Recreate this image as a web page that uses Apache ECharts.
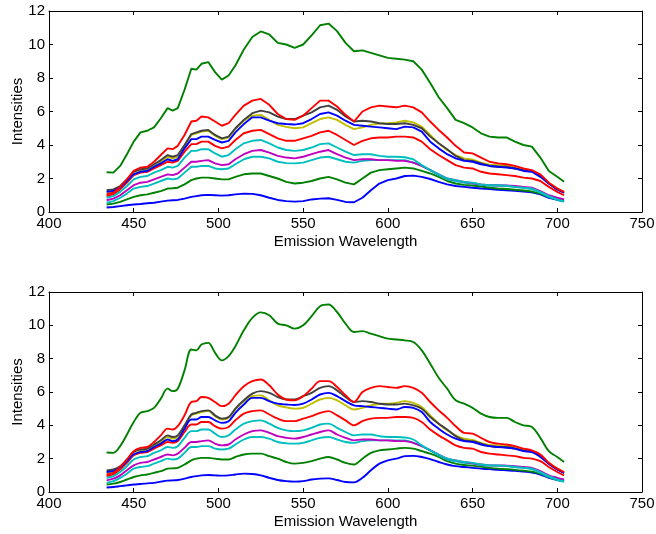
<!DOCTYPE html>
<html><head><meta charset="utf-8">
<script src="https://cdn.jsdelivr.net/npm/echarts@6/dist/echarts.min.js"></script>
<style>html,body{margin:0;padding:0;background:#fff}#c{width:656px;height:534px}</style>
</head><body><div id="c"></div>
<script>
const wavelengths = [434,438,442,446,450,454,458,462,466,470,473,476,480,484,487,490,494,498,502,506,510,515,520,525,530,535,540,545,550,555,560,565,570,575,580,585,590,595,600,605,610,615,620,625,630,635,640,645,650,655,660,665,670,675,680,685,690,695,700,704];
const xTicks = [400,450,500,550,600,650,700,750];
const yTicks = [0,2,4,6,8,10,12];

const s1_blue = [0.27,0.3,0.35,0.4,0.45,0.48,0.52,0.55,0.62,0.68,0.7,0.72,0.8,0.9,0.95,1.0,1.02,1.0,0.98,1.0,1.05,1.1,1.08,1.0,0.85,0.72,0.65,0.62,0.65,0.75,0.8,0.82,0.72,0.6,0.58,0.85,1.3,1.7,1.9,2.0,2.15,2.17,2.1,1.97,1.8,1.65,1.55,1.5,1.45,1.4,1.37,1.33,1.3,1.27,1.22,1.17,1.05,0.85,0.72,0.65];
const s2_green = [0.45,0.5,0.6,0.75,0.9,1.0,1.05,1.15,1.25,1.4,1.42,1.45,1.65,1.9,2.0,2.05,2.05,2.0,1.95,1.95,2.1,2.25,2.3,2.3,2.15,2.0,1.8,1.7,1.75,1.85,2.0,2.1,1.95,1.75,1.65,2.0,2.35,2.5,2.55,2.6,2.65,2.6,2.45,2.3,2.1,1.85,1.7,1.62,1.58,1.52,1.45,1.4,1.37,1.33,1.28,1.22,1.1,0.9,0.75,0.68];
const s3_red = [0.95,1.05,1.35,1.75,2.2,2.35,2.4,2.6,2.8,3.0,2.95,3.05,3.6,4.05,4.05,4.2,4.2,3.95,3.8,3.9,4.3,4.7,4.85,4.9,4.65,4.4,4.25,4.25,4.4,4.55,4.75,4.85,4.6,4.3,4.0,4.25,4.4,4.45,4.45,4.5,4.5,4.45,4.2,3.75,3.4,3.1,2.8,2.65,2.6,2.4,2.3,2.25,2.2,2.15,2.05,2.0,1.85,1.5,1.2,1.0];
const s4_cyan = [0.55,0.65,0.85,1.1,1.4,1.5,1.55,1.7,1.85,2.0,1.95,2.0,2.35,2.7,2.7,2.75,2.75,2.6,2.55,2.6,2.85,3.15,3.3,3.3,3.2,3.0,2.92,2.9,2.95,3.1,3.25,3.3,3.15,3.0,2.95,3.05,3.1,3.1,3.1,3.1,3.1,2.95,2.75,2.5,2.2,1.95,1.85,1.75,1.7,1.62,1.58,1.57,1.55,1.5,1.45,1.37,1.15,0.9,0.72,0.62];
const s5_magenta = [0.7,0.8,1.0,1.3,1.6,1.75,1.8,1.95,2.1,2.25,2.2,2.3,2.65,3.0,3.0,3.05,3.1,2.9,2.8,2.85,3.15,3.45,3.65,3.7,3.55,3.35,3.25,3.2,3.3,3.45,3.6,3.7,3.45,3.25,3.1,3.15,3.15,3.1,3.1,3.05,3.05,2.95,2.75,2.5,2.25,2.0,1.9,1.8,1.72,1.65,1.6,1.6,1.58,1.55,1.5,1.45,1.25,1.0,0.85,0.75];
const s6_olive = [1.1,1.2,1.45,1.85,2.25,2.45,2.5,2.75,3.0,3.3,3.2,3.3,3.95,4.6,4.7,4.8,4.85,4.55,4.35,4.45,4.95,5.45,5.75,5.8,5.5,5.2,5.08,5.0,5.05,5.3,5.55,5.65,5.5,5.2,4.95,5.05,5.2,5.28,5.3,5.35,5.45,5.35,5.1,4.6,4.1,3.7,3.4,3.2,3.12,2.95,2.82,2.8,2.75,2.68,2.55,2.47,2.2,1.75,1.4,1.2];
const s7_gray = [1.3,1.35,1.55,1.95,2.4,2.55,2.6,2.85,3.1,3.4,3.3,3.4,4.0,4.65,4.75,4.85,4.9,4.6,4.4,4.5,5.0,5.5,5.9,6.05,5.95,5.7,5.55,5.55,5.75,5.95,6.25,6.35,6.1,5.7,5.4,5.45,5.4,5.3,5.25,5.25,5.3,5.2,5.0,4.5,4.1,3.75,3.35,3.1,3.05,2.9,2.75,2.7,2.7,2.6,2.5,2.45,2.2,1.7,1.35,1.15];
const s8_blue = [1.2,1.25,1.45,1.85,2.25,2.4,2.45,2.7,2.9,3.15,3.05,3.15,3.8,4.35,4.35,4.5,4.5,4.3,4.15,4.25,4.75,5.25,5.65,5.65,5.45,5.3,5.25,5.22,5.3,5.55,5.85,5.95,5.75,5.45,5.2,5.15,5.1,5.05,5.0,4.95,5.1,5.05,4.8,4.2,3.8,3.45,3.2,3.05,3.0,2.85,2.75,2.7,2.65,2.6,2.45,2.4,2.1,1.7,1.35,1.15];
const s9_green = [2.37,2.35,2.75,3.45,4.2,4.75,4.85,5.05,5.6,6.2,6.05,6.2,7.3,8.55,8.5,8.85,8.95,8.35,7.9,8.15,8.75,9.7,10.45,10.78,10.6,10.1,10.0,9.8,10.0,10.55,11.15,11.25,10.8,10.1,9.6,9.65,9.5,9.35,9.2,9.15,9.1,9.0,8.5,7.7,6.85,6.2,5.5,5.3,5.05,4.7,4.5,4.45,4.45,4.2,4.0,3.9,3.25,2.45,2.1,1.8];
const s10_red = [1.05,1.15,1.5,1.95,2.45,2.65,2.7,3.0,3.4,3.8,3.75,3.95,4.6,5.4,5.45,5.7,5.65,5.4,5.15,5.3,5.8,6.35,6.65,6.75,6.4,5.85,5.55,5.5,5.75,6.2,6.65,6.65,6.3,5.8,5.4,6.0,6.25,6.35,6.3,6.25,6.35,6.25,5.95,5.4,4.9,4.45,3.95,3.55,3.5,3.25,3.0,2.9,2.85,2.75,2.6,2.5,2.25,1.75,1.4,1.2];
const s11_cyan = [0.85,0.95,1.2,1.55,1.95,2.1,2.15,2.35,2.5,2.7,2.65,2.75,3.25,3.65,3.65,3.75,3.75,3.5,3.3,3.4,3.75,4.1,4.25,4.3,4.1,3.85,3.7,3.65,3.7,3.85,4.05,4.1,3.85,3.6,3.4,3.45,3.45,3.35,3.3,3.3,3.27,3.15,2.8,2.5,2.25,2.0,1.9,1.8,1.75,1.65,1.6,1.6,1.57,1.5,1.45,1.4,1.2,0.95,0.75,0.62];

const seriesList = [
  [s1_blue,'#0000ff'],[s2_green,'#008000'],[s3_red,'#ff0000'],[s4_cyan,'#00bfbf'],
  [s5_magenta,'#bf00bf'],[s6_olive,'#bfbf00'],[s7_gray,'#404040'],[s8_blue,'#0000ff'],
  [s9_green,'#008000'],[s10_red,'#ff0000'],[s11_cyan,'#00bfbf']
];

const FONT = 'Liberation Sans, Arial, Helvetica, sans-serif';
const grids = [
  {left:49, top:11, width:593, height:201, outerBoundsMode:'none', containLabel:false},
  {left:49, top:292, width:593, height:200, outerBoundsMode:'none', containLabel:false}
];
const xAxes = [], yAxes = [], series = [];
grids.forEach((g, gi) => {
  xAxes.push({type:'value', gridIndex:gi, min:400, max:750, interval:50, position:'bottom',
    name:'Emission Wavelength', nameLocation:'middle', nameGap:22, nameMoveOverlap:false,
    nameTextStyle:{color:'#000', fontFamily:FONT, fontSize:15},
    axisLine:{show:true, onZero:false, lineStyle:{color:'#000', width:1}},
    axisTick:{show:true, inside:true, length:4, lineStyle:{color:'#000'}},
    axisLabel:{color:'#000', fontFamily:FONT, fontSize:15, margin:4},
    splitLine:{show:false}});
  xAxes.push({type:'value', gridIndex:gi, min:400, max:750, interval:50, position:'top',
    axisLine:{show:true, onZero:false, lineStyle:{color:'#000', width:1}},
    axisTick:{show:true, inside:true, length:4, lineStyle:{color:'#000'}},
    axisLabel:{show:false}, splitLine:{show:false}});
  yAxes.push({type:'value', gridIndex:gi, min:0, max:12, interval:2, position:'left',
    name:'Intensities', nameLocation:'middle', nameGap:24, nameMoveOverlap:false,
    nameTextStyle:{color:'#000', fontFamily:FONT, fontSize:15},
    axisLine:{show:true, onZero:false, lineStyle:{color:'#000', width:1}},
    axisTick:{show:true, inside:true, length:4, lineStyle:{color:'#000'}},
    axisLabel:{color:'#000', fontFamily:FONT, fontSize:15, margin:4},
    splitLine:{show:false}});
  yAxes.push({type:'value', gridIndex:gi, min:0, max:12, interval:2, position:'right',
    axisLine:{show:true, onZero:false, lineStyle:{color:'#000', width:1}},
    axisTick:{show:true, inside:true, length:4, lineStyle:{color:'#000'}},
    axisLabel:{show:false}, splitLine:{show:false}});
  seriesList.forEach(([vals, col]) => {
    series.push({type:'line', xAxisIndex:gi*2, yAxisIndex:gi*2,
      data: wavelengths.map((w,i)=>[w, vals[i]]),
      showSymbol:false, smooth: gi===1 ? 0.35 : false,
      lineStyle:{color:col, width:1.9}, itemStyle:{color:col},
      animation:false, silent:true});
  });
});

const chart = echarts.init(document.getElementById('c'), null, {renderer:'canvas'});
chart.setOption({
  backgroundColor:'#fff', animation:false,
  grid: grids, xAxis: xAxes, yAxis: yAxes, series: series
});
</script>
</body></html>
